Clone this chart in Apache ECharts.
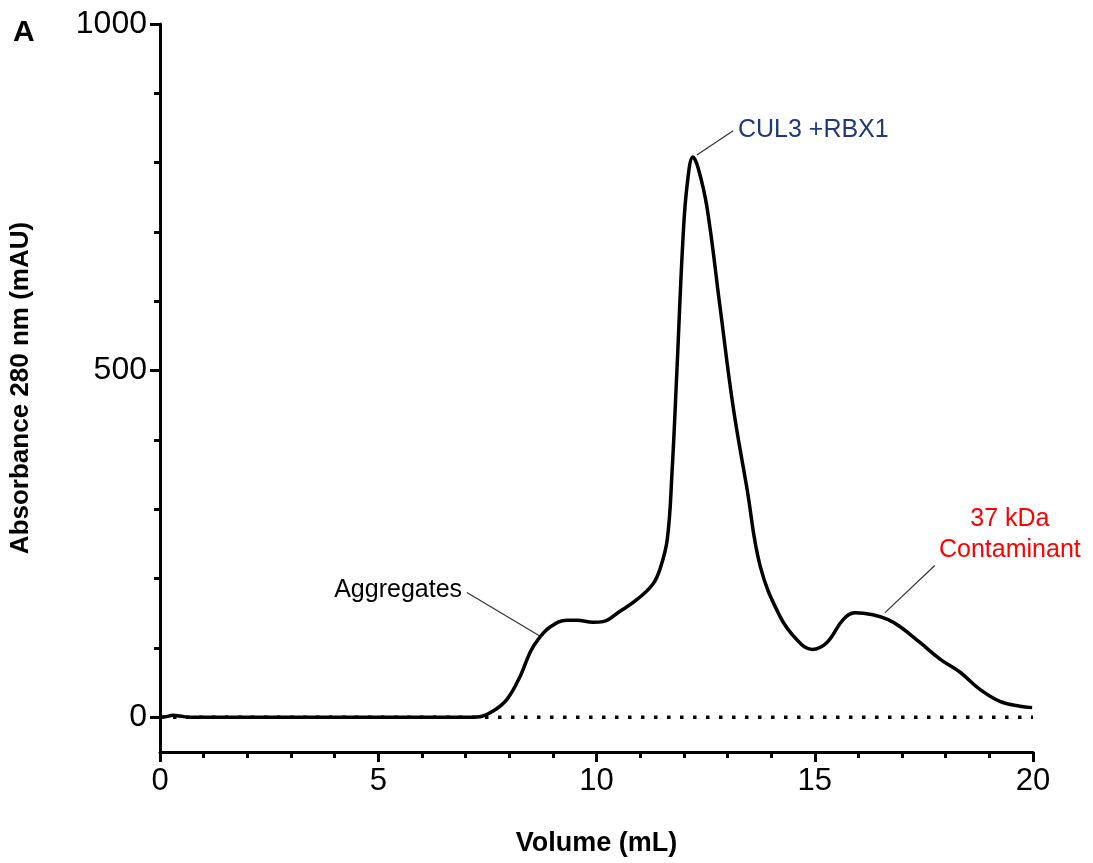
<!DOCTYPE html>
<html>
<head>
<meta charset="utf-8">
<script src="https://cdn.jsdelivr.net/npm/echarts@6/dist/echarts.min.js"></script>
<style>
  html, body { margin: 0; padding: 0; background: #fff; }
  #chart { width: 1093px; height: 863px; }
</style>
</head>
<body>
<div id="chart"></div>
<script>
// elution volume (mL) and absorbance (mAU)
const volume = [0, 0.15, 0.3, 0.45, 0.7, 2, 4, 6, 7, 7.33, 7.63, 7.95, 8.25, 8.48, 8.66, 8.93,
  9.32, 9.55, 9.92, 10.15, 10.54, 10.93, 11.29, 11.45, 11.62, 11.73, 11.84, 11.98, 12.08,
  12.21, 12.33, 12.53, 12.83, 13.13, 13.45, 13.75, 14.2, 14.59, 14.94, 15.28, 15.65, 15.92,
  16.33, 16.68, 16.95, 17.41, 17.87, 18.33, 18.79, 19.24, 19.7, 19.98];
const absorbance = [0, 1, 3, 2, 0, 0, 0, 0, 0, 1, 9, 26, 59, 94, 112, 130,
  140, 140, 137, 138, 153, 170, 192, 213, 256, 353, 497, 689, 770,
  808, 792, 736, 592, 448, 329, 218, 146, 112, 98, 108, 141, 151,
  148, 141, 131, 108, 84, 65, 40, 23, 16, 14];

const baselineX = [0, 20];
const baselineY = [0, 0];

const xTicks = [0, 5, 10, 15, 20];
const yLabels = [0, 500, 1000];
const yMinor = [100, 200, 300, 400, 600, 700, 800, 900];

// labels: text, leader line from/to (data coords), text anchor (data coords)
const notes = [
  { text: "Aggregates", color: "#000", from: [8.71, 117], to: [7.03, 180], at: [6.92, 184], align: "right" },
  { text: "CUL3 +RBX1", color: "#1f3a7a", from: [12.3, 811], to: [13.13, 846], at: [13.24, 847], align: "left" },
  { text: "37 kDa\nContaminant", color: "#ff0000", from: [16.61, 151], to: [17.75, 219], at: [19.47, 263], align: "center" }
];

const font = "Liberation Sans, Arial, sans-serif";
const chart = echarts.init(document.getElementById("chart"));

const trace = volume.map((v, i) => [v, absorbance[i]]);
const baseline = baselineX.map((v, i) => [v, baselineY[i]]);

chart.setOption({
  animation: false,
  grid: { left: 160, right: 60, top: 24, bottom: 111 },
  xAxis: {
    type: "value",
    min: 0,
    max: 20,
    interval: 5,
    name: "Volume (mL)",
    nameLocation: "middle",
    nameGap: 78,
    nameTextStyle: { fontFamily: font, fontSize: 27, fontWeight: "bold", color: "#000" },
    axisLine: { onZero: false, lineStyle: { color: "#000", width: 3 } },
    axisTick: { length: 10, lineStyle: { color: "#000", width: 3 } },
    minorTick: { show: true, splitNumber: 5, length: 6, lineStyle: { color: "#000", width: 3 } },
    axisLabel: { fontFamily: font, fontSize: 31, color: "#000", margin: 14, customValues: xTicks },
    splitLine: { show: false }
  },
  yAxis: [
    {
      type: "value",
      min: -50,
      max: 1000,
      name: "Absorbance 280 nm (mAU)",
      nameLocation: "middle",
      nameGap: 126,
      nameTextStyle: { fontFamily: font, fontSize: 26, fontWeight: "bold", color: "#000" },
      axisLine: { show: true, onZero: false, lineStyle: { color: "#000", width: 3 } },
      axisTick: { show: true, length: 10, customValues: yLabels, lineStyle: { color: "#000", width: 3 } },
      axisLabel: { fontFamily: font, fontSize: 32, color: "#000", margin: 13, customValues: yLabels, formatter: (v) => String(v) },
      splitLine: { show: false }
    },
    {
      type: "value",
      min: -50,
      max: 1000,
      position: "left",
      axisLine: { show: false, onZero: false },
      axisTick: { show: true, length: 6, customValues: yMinor, lineStyle: { color: "#000", width: 3 } },
      axisLabel: { show: false },
      splitLine: { show: false }
    }
  ],
  series: [
    {
      type: "line",
      data: baseline,
      symbol: "none",
      lineStyle: { color: "#000", width: 3.5, type: [3.5, 9.5] },
      z: 1
    },
    {
      type: "line",
      data: trace,
      symbol: "none",
      smooth: 0.4,
      lineStyle: { color: "#000", width: 3.5 },
      z: 2
    }
  ]
});

const px = (p) => chart.convertToPixel({ xAxisIndex: 0, yAxisIndex: 0 }, p);
const elements = [
  { type: "text", left: 13, top: 18, style: { text: "A", font: "bold 30px " + font, fill: "#000" } }
];
notes.forEach((n) => {
  const a = px(n.from), b = px(n.to), t = px(n.at);
  elements.push({
    type: "line",
    shape: { x1: a[0], y1: a[1], x2: b[0], y2: b[1] },
    style: { stroke: "#333", lineWidth: 1.2 }
  });
  elements.push({
    type: "text",
    x: t[0],
    y: t[1],
    style: {
      text: n.text, fill: n.color, font: "25px " + font,
      align: n.align, verticalAlign: "middle", lineHeight: 31
    }
  });
});
chart.setOption({ graphic: elements });
</script>
</body>
</html>
